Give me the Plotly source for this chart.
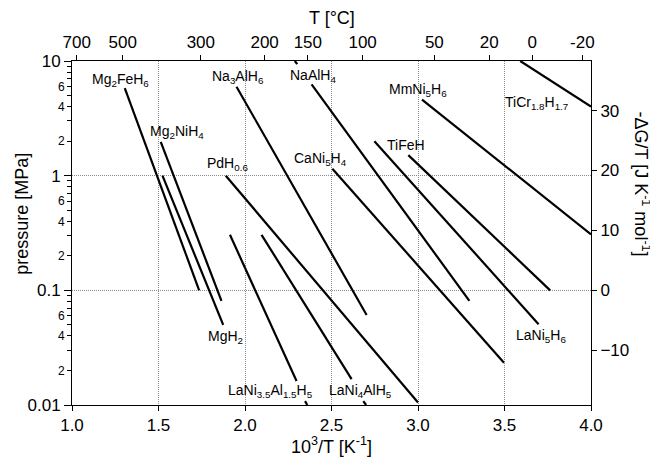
import numpy as np
import plotly.graph_objects as go

FONT = "Liberation Sans, Arial, sans-serif"
R = 8.314  # J K^-1 mol^-1

# Van't Hoff lines: start/end in 10^3/T [K^-1] and pressure [MPa]
line_names = ["Mg2FeH6", "Mg2NiH4", "MgH2", "Na3AlH6", "NaAlH4", "PdH0.6",
              "LaNi3.5Al1.5H5", "LaNi4AlH5", "CaNi5H4", "LaNi5H6", "TiFeH",
              "MmNi5H6", "TiCr1.8H1.7", "seg_top", "seg_bot1", "seg_bot2"]
x_start = [1.305, 1.513, 1.523, 1.951, 2.385, 1.889, 1.913, 2.0955, 2.505,
           2.748, 2.944, 3.023, 3.591, 2.288, 2.347, 2.684]
p_start = [5.8, 1.97, 1.0, 5.97, 6.25, 1.0, 0.305, 0.305, 1.15,
           2.0, 1.51, 4.6, 10.0, 10.0, 0.0108, 0.0108]
x_end = [1.735, 1.864, 1.874, 2.703, 3.297, 3.0, 2.298, 2.616, 3.497,
         3.697, 3.764, 4.0, 4.0, 2.302, 2.360, 2.700]
p_end = [0.10, 0.081, 0.050, 0.061, 0.081, 0.0105, 0.0162, 0.0168, 0.0234,
         0.0507, 0.10, 0.308, 4.0, 9.4, 0.0100, 0.0100]

# Labels
label_text = ["Mg<sub>2</sub>FeH<sub>6</sub>", "Mg<sub>2</sub>NiH<sub>4</sub>",
              "PdH<sub>0.6</sub>", "Na<sub>3</sub>AlH<sub>6</sub>", "NaAlH<sub>4</sub>",
              "CaNi<sub>5</sub>H<sub>4</sub>", "MmNi<sub>5</sub>H<sub>6</sub>", "TiFeH",
              "TiCr<sub>1.8</sub>H<sub>1.7</sub>", "MgH<sub>2</sub>",
              "LaNi<sub>3.5</sub>Al<sub>1.5</sub>H<sub>5</sub>", "LaNi<sub>4</sub>AlH<sub>5</sub>",
              "LaNi<sub>5</sub>H<sub>6</sub>"]
label_x = [1.278, 1.606, 1.897, 1.962, 2.395, 2.437, 2.998, 2.933, 3.685,
           1.887, 2.148, 2.667, 3.710]
label_p = [6.82, 2.38, 1.27, 7.31, 7.45, 1.39, 5.57, 1.84, 4.27,
           0.0388, 0.01324, 0.01324, 0.0396]

# Axes ticks
x_ticks = [1.0, 1.5, 2.0, 2.5, 3.0, 3.5, 4.0]
t_celsius = [700, 500, 300, 200, 150, 100, 50, 20, 0, -20]
p_major = [0.01, 0.1, 1, 10]
p_major_text = ["0.01", "0.1", "1", "10"]
p_minor_labeled = [2, 4, 6]
dg_ticks = [-10, 0, 10, 20, 30]

fig = go.Figure()
for i in range(len(line_names)):
    fig.add_trace(go.Scatter(
        x=[x_start[i], x_end[i]], y=[p_start[i], p_end[i]],
        mode="lines", line=dict(color="black", width=2.2),
        showlegend=False, hoverinfo="skip", xaxis="x", yaxis="y"))

# empty traces so the secondary axes are drawn
fig.add_trace(go.Scatter(x=[None], y=[None], xaxis="x2", yaxis="y2",
                         showlegend=False, hoverinfo="skip"))
fig.add_trace(go.Scatter(x=[None], y=[None], xaxis="x", yaxis="y3",
                         showlegend=False, hoverinfo="skip"))

for t, x, p in zip(label_text, label_x, label_p):
    fig.add_annotation(x=x, y=np.log10(p), xref="x", yref="y", text=t,
                       xanchor="center", yanchor="middle",
                       showarrow=False, font=dict(family=FONT, size=14, color="black"))

decades = [0.01, 0.1, 1]
minor_vals = [d * m for d in decades for m in range(2, 10)]
minor_text = [str(m) if m in p_minor_labeled else "" for d in decades for m in range(2, 10)]

top_vals = [1000.0 / (t + 273.15) for t in t_celsius]
top_text = [str(t) for t in t_celsius]

lp_lo, lp_hi = -2, 1
dg_range = [R * np.log(10) * (lp_lo + 1), R * np.log(10) * (lp_hi + 1)]

tick_font = dict(family=FONT, size=17, color="black")
grid = dict(showgrid=True, gridcolor="#8c8c8c", griddash="1px,1px", gridwidth=1)

fig.update_layout(
    width=650, height=452,
    margin=dict(l=64, r=67, t=53, b=55),
    paper_bgcolor="white", plot_bgcolor="white",
    font=dict(family=FONT, color="black"),
    xaxis=dict(range=[1, 4], tickvals=x_ticks, ticktext=[f"{v:.1f}" for v in x_ticks],
               ticks="outside", ticklen=5, tickcolor="black", tickfont=tick_font,
               showline=True, linecolor="black", linewidth=1, zeroline=False, **grid),
    xaxis2=dict(range=[1, 4], overlaying="x", side="top", anchor="y",
                tickvals=top_vals, ticktext=top_text, ticks="outside", ticklen=5,
                tickcolor="black", tickfont=tick_font, showline=True, linecolor="black",
                linewidth=1, showgrid=False, zeroline=False),
    yaxis=dict(type="log", range=[lp_lo, lp_hi], tickvals=p_major, ticktext=p_major_text,
               ticks="outside", ticklen=7, tickcolor="black", tickfont=tick_font,
               showline=True, linecolor="black", linewidth=1, zeroline=False, **grid),
    yaxis3=dict(type="log", range=[lp_lo, lp_hi], overlaying="y", side="left", anchor="x",
                tickvals=minor_vals, ticktext=minor_text, ticks="outside", ticklen=4,
                tickcolor="black", tickfont=dict(family=FONT, size=12, color="black"),
                showline=False, showgrid=False, zeroline=False),
    yaxis2=dict(range=dg_range, overlaying="y", side="right", anchor="x",
                tickvals=dg_ticks, ticks="outside", ticklen=5, tickcolor="black",
                tickfont=tick_font, showline=True, linecolor="black", linewidth=1,
                showgrid=False, zeroline=False),
)

title_font = dict(family=FONT, size=18, color="black")
common = dict(xref="paper", yref="paper", showarrow=False, font=title_font,
              xanchor="center", yanchor="middle")
fig.add_annotation(x=0.5, y=1.125, text="T [°C]", **common)
fig.add_annotation(x=0.5, y=-0.118, text="10<sup>3</sup>/T [K<sup>-1</sup>]", **common)
fig.add_annotation(x=-0.0964, y=0.556, text="pressure [MPa]", textangle=-90, **common)
fig.add_annotation(x=1.097, y=0.643, text="-ΔG/T [J K<sup>-1</sup> mol<sup>-1</sup>]",
                   textangle=90, **common)

fig.write_html("out.html")
